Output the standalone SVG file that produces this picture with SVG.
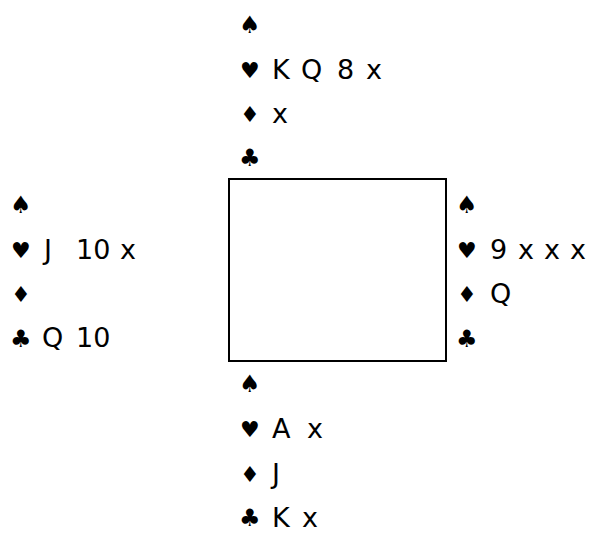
<svg xmlns="http://www.w3.org/2000/svg" width="597" height="534" viewBox="0 0 597 534">
<style>
.s{font-family:"DejaVu Sans",sans-serif;font-size:22px;fill:#000}
.b{font-size:24px}
.c{font-family:"DejaVu Sans","Liberation Sans",sans-serif;font-size:27px;fill:#000}
.box{fill:#fff;stroke:#000;stroke-width:2}
</style>
<rect width="597" height="534" fill="#fff"/>
<g id="north">
<text class="s b" x="239" y="33">♠</text>
<text class="s" x="240" y="78">♥</text>
<text class="s" x="240" y="122">♦</text>
<text class="s b" x="239" y="166">♣</text>
<text class="c" y="79"><tspan x="272">K</tspan><tspan x="301">Q</tspan><tspan x="337">8</tspan><tspan x="366">x</tspan></text>
<text class="c" x="272" y="123">x</text>
</g>
<g id="west">
<text class="s b" x="10" y="213">♠</text>
<text class="s" x="11" y="258">♥</text>
<text class="s" x="11" y="302">♦</text>
<text class="s b" x="10" y="347">♣</text>
<text class="c" y="259"><tspan x="44">J</tspan><tspan x="76">10</tspan><tspan x="120">x</tspan></text>
<text class="c" y="347"><tspan x="42">Q</tspan><tspan x="76">10</tspan></text>
</g>
<g id="table">
<rect class="box" x="229" y="179" width="217" height="182"/>
</g>
<g id="east">
<text class="s b" x="456" y="213">♠</text>
<text class="s" x="457" y="258">♥</text>
<text class="s" x="457" y="302">♦</text>
<text class="s b" x="456" y="347">♣</text>
<text class="c" y="259"><tspan x="490">9</tspan><tspan x="518">x</tspan><tspan x="544">x</tspan><tspan x="570">x</tspan></text>
<text class="c" x="490" y="303">Q</text>
</g>
<g id="south">
<text class="s b" x="239" y="392">♠</text>
<text class="s" x="240" y="437">♥</text>
<text class="s" x="240" y="482">♦</text>
<text class="s b" x="239" y="526">♣</text>
<text class="c" y="438"><tspan x="272">A</tspan><tspan x="307">x</tspan></text>
<text class="c" x="272" y="483">J</text>
<text class="c" y="527"><tspan x="272">K</tspan><tspan x="302">x</tspan></text>
</g>
<g id="connectors"/>
</svg>
